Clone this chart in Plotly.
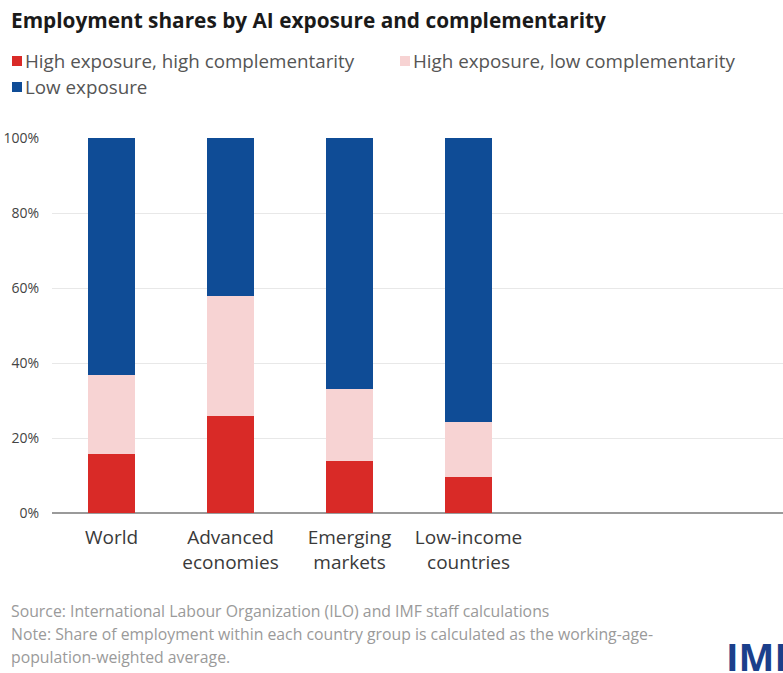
import plotly.graph_objects as go

categories = ["World", "Advanced<br>economies", "Emerging<br>markets", "Low-income<br>countries"]
series_names = ["High exposure, high complementarity", "High exposure, low complementarity", "Low exposure"]
high_high = [15.8, 25.9, 13.9, 9.6]
high_low = [20.9, 31.9, 19.3, 14.7]
low_exp = [63.3, 42.2, 66.8, 75.7]
colors = ["#d92a27", "#f7d3d3", "#0f4c96"]
y_ticks = [0, 20, 40, 60, 80, 100]
y_tick_labels = ["0%", "20%", "40%", "60%", "80%", "100%"]

W, H = 783, 673
L, R, T, B = 52, 0, 138, 160

fig = go.Figure()
for name, vals, col in zip(series_names, [high_high, high_low, low_exp], colors):
    fig.add_trace(go.Bar(x=list(range(len(categories))), y=vals, name=name,
                         marker=dict(color=col, line=dict(width=0)),
                         width=0.4, showlegend=False))

fig.update_layout(
    width=W, height=H, barmode="stack",
    margin=dict(l=L, r=R, t=T, b=B),
    paper_bgcolor="white", plot_bgcolor="white",
    font=dict(family="Open Sans", color="#333333"),
    xaxis=dict(range=[-0.5, -0.5 + (W - L - R) / 119.0],
               tickmode="array", tickvals=list(range(len(categories))), ticktext=categories,
               tickfont=dict(size=19, color="#3a3a3a"),
               showgrid=False, zeroline=False, showline=False, ticks="",
               ticklabelstandoff=11),
    yaxis=dict(range=[0, 100], tickmode="array", tickvals=y_ticks, ticktext=y_tick_labels,
               tickfont=dict(size=14, color="#444444"),
               showgrid=True, gridcolor="#e8e8e8", gridwidth=1,
               zeroline=True, zerolinecolor="#9a9a9a", zerolinewidth=1.5,
               showline=False, ticks="", ticklabelstandoff=12),
)

pw, ph = W - L - R, H - T - B
def px(xp):
    return (xp - L) / pw
def py(yp):
    return (H - B - yp) / ph

# Title
fig.add_annotation(text="<b>Employment shares by AI exposure and complementarity</b>",
                   xref="paper", yref="paper", x=px(9), y=py(20),
                   xanchor="left", yanchor="middle", showarrow=False,
                   font=dict(size=20.8, color="#1a1a1a", family="Open Sans"))

# Manual legend
legend_items = [(12, 61, 0), (400, 61, 1), (12, 87, 2)]
for x0, yc, i in legend_items:
    fig.add_shape(type="rect", xref="paper", yref="paper",
                  x0=px(x0), x1=px(x0 + 10), y0=py(yc + 5), y1=py(yc - 5),
                  fillcolor=colors[i], line=dict(width=0))
    fig.add_annotation(text=series_names[i], xref="paper", yref="paper",
                       x=px(x0 + 11), y=py(yc), xanchor="left", yanchor="middle",
                       showarrow=False, font=dict(size=18.8, color="#555555"))

# Notes
notes = ["Source: International Labour Organization (ILO) and IMF staff calculations",
         "Note: Share of employment within each country group is calculated as the working-age-",
         "population-weighted average."]
for k, line in enumerate(notes):
    fig.add_annotation(text=line, xref="paper", yref="paper", x=px(9), y=py(611 + 23 * k),
                       xanchor="left", yanchor="middle", showarrow=False,
                       font=dict(size=15.8, color="#9a9a9a"))

# IMF logo text (cropped at the right edge as in the reference)
fig.add_annotation(text="<b>IMF</b>", xref="paper", yref="paper", x=px(724), y=py(656),
                   xanchor="left", yanchor="middle", showarrow=False,
                   font=dict(size=38, color="#1b3f8b", family="Open Sans"))

fig.write_html("out.html")
